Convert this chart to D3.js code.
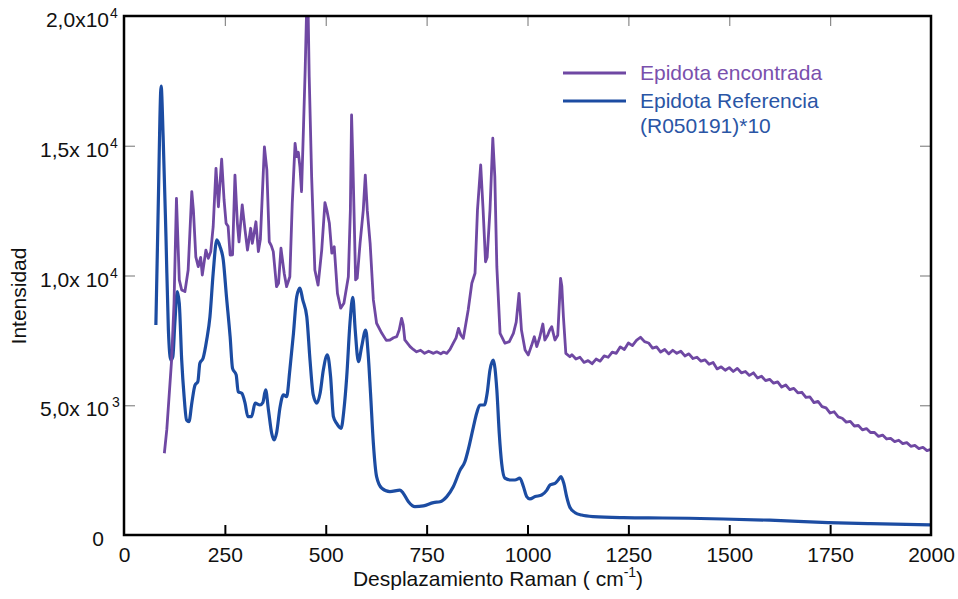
<!DOCTYPE html>
<html>
<head>
<meta charset="utf-8">
<script src="https://cdn.jsdelivr.net/npm/d3@7"></script>
<style>
  body { margin: 0; background: #fff; }
  svg { display: block; font-family: "Liberation Sans", Arial, sans-serif; }
</style>
</head>
<body>
<svg id="chart" width="958" height="599"></svg>
<script>
// Epidota encontrada (measured spectrum)
const shiftFound = [100, 106, 118, 124, 130, 137, 143, 151, 159, 168, 172, 178, 184, 190, 194, 203, 209, 215, 221, 228,
  234, 242, 248, 253, 258, 263, 269, 275, 281, 285, 293, 300, 306, 314, 318, 322, 327, 333, 338, 348,
  354, 360, 365, 370, 378, 383, 389, 397, 403, 411, 417, 424, 428, 432, 436, 440, 445, 449, 453, 456,
  459, 465, 473, 481, 490, 498, 503, 509, 515, 521, 529, 537, 545, 556, 561, 564, 567, 570, 574, 578,
  585, 593, 598, 603, 610, 618, 626, 639, 650, 659, 668, 676, 682, 688, 692, 696, 709, 717, 725, 735,
  745, 755, 767, 775, 785, 792, 800, 808, 816, 823, 829, 835, 841, 853, 862, 870, 876, 884, 890, 896,
  900, 907, 914, 919, 924, 932, 944, 955, 965, 972, 979, 985, 994, 1002, 1010, 1017, 1023, 1030, 1038, 1043,
  1050, 1055, 1060, 1068, 1075, 1082, 1085, 1089, 1095, 1105,
  1110, 1120, 1130, 1140, 1150, 1160, 1170, 1180, 1190, 1200, 1210, 1220, 1230, 1240, 1250, 1260, 1270, 1280, 1290, 1300,
  1310, 1320, 1330, 1340, 1350, 1360, 1370, 1380, 1390, 1400, 1410, 1420, 1430, 1440, 1450, 1460, 1470, 1480, 1490, 1500,
  1510, 1520, 1530, 1540, 1550, 1560, 1570, 1580, 1590, 1600, 1610, 1620, 1630, 1640, 1650, 1660, 1670, 1680, 1690, 1700,
  1710, 1720, 1730, 1740, 1750, 1760, 1770, 1780, 1790, 1800, 1810, 1820, 1830, 1840, 1850, 1860, 1870, 1880, 1890, 1900,
  1910, 1920, 1930, 1940, 1950, 1960, 1970, 1980, 1990, 2000];
const intensityFound = [3150, 4050, 6750, 8940, 12975, 9830, 9440, 9380, 10210, 13230, 12520, 10720, 10340, 10700, 10020, 10980, 10660, 10920, 11880, 14130,
  12650, 14480, 12910, 12010, 11900, 10790, 10800, 13870, 12010, 11300, 12720, 11750, 10980, 11820, 11240, 11600, 12070, 10920, 11400, 14960,
  14070, 11300, 11150, 10920, 9570, 9700, 11050, 10090, 9570, 9950, 12780, 15090, 14580, 14750, 14190, 13230, 15800, 17920, 20500, 20500,
  17660, 13810, 10210, 9630, 10980, 12810, 12500, 12010, 10860, 11110, 9310, 8740, 8930, 9950, 12500, 16185, 14500, 12520, 9830, 9900,
  11240, 12520, 13870, 12500, 11240, 9060, 8160, 7770, 7500, 7515, 7600, 7644, 7900, 8350, 8100, 7515, 7260, 7150, 7060, 7120,
  7000, 7080, 7000, 7060, 6980, 7050, 7000, 7150, 7390, 7600, 7965, 7700, 7580, 8670, 9700, 10085, 12520, 14260, 12520, 10530,
  10700, 12520, 15290, 13810, 10340, 7770, 7390, 7450, 7770, 8200, 9310, 7900, 7130, 6940, 7300, 7640, 7260, 7600, 8130, 7515,
  7700, 7900, 8030, 7515, 7700, 9890, 9600, 8410, 7000, 6870,
  6950, 6780, 6850, 6650, 6720, 6600, 6780, 6700, 6900, 6850, 7050, 7000, 7250, 7150, 7400, 7300, 7500, 7620, 7450, 7400,
  7200, 7250, 7050, 7150, 6980, 7120, 7000, 7080, 6900, 6980, 6800, 6850, 6700, 6750, 6580, 6650, 6400, 6480, 6350, 6450,
  6300, 6420, 6250, 6300, 6150, 6250, 6050, 6120, 5950, 6000, 5850, 5900, 5700, 5780, 5600, 5650, 5480, 5500, 5300, 5320,
  5100, 5150, 4950, 4900, 4700, 4750, 4550, 4500, 4350, 4380, 4200, 4220, 4050, 4100, 3950, 3950, 3800, 3850, 3700, 3720,
  3600, 3650, 3520, 3560, 3420, 3450, 3330, 3380, 3250, 3300];

// Epidota Referencia (R050191)*10
const shiftRef = [79, 85, 92, 97, 104, 110, 116, 121, 126, 132, 137, 143, 149, 155, 161, 168, 176, 183, 188, 196,
  205, 213, 221, 230, 238, 246, 254, 263, 269, 278, 283, 292, 300, 307, 316, 325, 337, 344, 351, 358,
  366, 372, 378, 387, 395, 403, 411, 420, 428, 436, 443, 453, 461, 469, 478, 486, 494, 504, 512, 519,
  527, 538, 545, 552, 560, 567, 573, 581, 589, 599, 605, 611, 618, 626, 639, 659, 684, 692, 705, 721,
  742, 767, 783, 800, 816, 833, 845, 853, 866, 874, 882, 893, 900, 907, 915, 924, 930, 936, 944, 957,
  969, 981, 990, 998, 1006, 1019, 1035, 1048, 1056, 1068, 1076, 1083, 1090, 1097, 1105, 1118, 1134, 1163, 1237, 1300,
  1400, 1485, 1600, 1745, 1850, 2000];
const intensityRef = [8090, 12780, 17300, 15350, 11500, 7900, 6740, 6870, 8160, 9380, 8930, 6740, 5330, 4430, 4370, 5080, 5780, 5910, 6620, 6810,
  7520, 8410, 10090, 11370, 11110, 10600, 9180, 7640, 6420, 6170, 5520, 5460, 5080, 4560, 4560, 5080, 5010, 5100, 5590, 4820,
  3920, 3660, 3920, 4950, 5400, 5330, 6360, 7770, 9180, 9510, 9060, 8410, 6740, 5400, 5080, 5460, 6360, 6940, 6100, 4560,
  4300, 4110, 4820, 6100, 8160, 9160, 7900, 6680, 7260, 7900, 7000, 5460, 3530, 2250, 1800, 1670, 1730, 1610, 1280, 1090,
  1120, 1250, 1280, 1480, 1860, 2500, 2830, 3280, 4170, 4690, 5010, 5010, 5460, 6360, 6740, 5590, 3920, 2760, 2190, 2120,
  2120, 2190, 1860, 1480, 1390, 1480, 1540, 1730, 1930, 1990, 2120, 2250, 1990, 1480, 1070, 860, 770, 710, 670, 660,
  645, 617, 570, 480, 440, 390];

const xTicks = [0, 250, 500, 750, 1000, 1250, 1500, 1750, 2000];
const yTicks = [0, 5000, 10000, 15000, 20000];
const yTickBase = ["0", "5,0x 10", "1,0x 10", "1,5x 10", "2,0x10"];
const yTickExp = ["", "3", "4", "4", "4"];

const series = [
  {name: "Epidota encontrada", xs: shiftFound, ys: intensityFound, color: "#6f48a3", text: "#7a50ad", width: 2.8,
   curve: d3.curveLinear},
  {name: "Epidota Referencia", name2: "(R050191)*10", xs: shiftRef, ys: intensityRef, color: "#1c4ca2", text: "#2a55a5", width: 3.2,
   curve: d3.curveMonotoneX}
];

const svg = d3.select("#chart");
const plotLeft = 124, plotRight = 931, plotTop = 16, plotBottom = 535;
const fs = 21;

const x = d3.scaleLinear().domain([0, 2000]).range([plotLeft, plotRight]);
const y = d3.scaleLinear().domain([0, 20000]).range([plotBottom, plotTop]);

svg.append("clipPath").attr("id", "plotclip")
  .append("rect").attr("x", plotLeft).attr("y", plotTop)
  .attr("width", plotRight - plotLeft).attr("height", plotBottom - plotTop);

// draw reference first, measured on top
[series[1], series[0]].forEach(s => {
  const line = d3.line().x(d => x(d[0])).y(d => y(d[1])).curve(s.curve);
  svg.append("path")
    .datum(s.xs.map((v, i) => [v, s.ys[i]]))
    .attr("clip-path", "url(#plotclip)")
    .attr("fill", "none")
    .attr("stroke", s.color)
    .attr("stroke-width", s.width)
    .attr("stroke-linejoin", "round")
    .attr("d", line);
});

// grey inner ticks on top / left / right
const inner = xTicks.slice(1, -1);
svg.append("g").attr("transform", `translate(0,${plotTop})`)
  .call(d3.axisTop(x).tickValues(inner).tickSizeInner(-10).tickSizeOuter(0).tickFormat(""))
  .call(g => g.select(".domain").remove())
  .selectAll("line").attr("stroke", "#8a8a8a").attr("stroke-width", 1.2);

svg.append("g").attr("transform", `translate(${plotLeft},0)`)
  .call(d3.axisLeft(y).tickValues(yTicks.slice(1, -1)).tickSizeInner(-11).tickSizeOuter(0).tickFormat(""))
  .call(g => g.select(".domain").remove())
  .selectAll("line").attr("stroke", "#8a8a8a").attr("stroke-width", 1.2);

svg.append("g").attr("transform", `translate(${plotRight},0)`)
  .call(d3.axisRight(y).tickValues(yTicks.slice(1, -1)).tickSizeInner(-11).tickSizeOuter(0).tickFormat(""))
  .call(g => g.select(".domain").remove())
  .selectAll("line").attr("stroke", "#8a8a8a").attr("stroke-width", 1.2);

// bottom axis: black inner ticks and labels
const xAxisG = svg.append("g").attr("transform", `translate(0,${plotBottom})`)
  .call(d3.axisBottom(x).tickValues(xTicks).tickSizeInner(-10).tickSizeOuter(0).tickPadding(12)
    .tickFormat(d3.format("d")));
xAxisG.select(".domain").remove();
xAxisG.selectAll(".tick line").attr("stroke", "#000").attr("stroke-width", 2)
  .filter(d => d === 0 || d === 2000).remove();
xAxisG.selectAll(".tick text").attr("font-size", fs).attr("fill", "#111")
  .attr("font-family", "Liberation Sans, Arial, sans-serif");

// frame
svg.append("rect")
  .attr("x", plotLeft).attr("y", plotTop)
  .attr("width", plotRight - plotLeft).attr("height", plotBottom - plotTop)
  .attr("fill", "none").attr("stroke", "#000").attr("stroke-width", 2.5);

// y tick labels with exponents
yTicks.forEach((v, i) => {
  svg.append("text")
    .attr("x", yTickExp[i] ? 109 : 104)
    .attr("y", y(v) + 11)
    .attr("text-anchor", "end")
    .attr("font-size", fs).attr("fill", "#111")
    .text(yTickBase[i]);
  if (yTickExp[i]) {
    svg.append("text")
      .attr("x", yTickExp[i] === "3" ? 112 : 110)
      .attr("y", y(v) + 2)
      .attr("font-size", 14).attr("fill", "#111")
      .text(yTickExp[i]);
  }
});

// axis titles
const xTitle = svg.append("text")
  .attr("x", 498).attr("y", 586).attr("text-anchor", "middle")
  .attr("font-size", fs).attr("fill", "#111");
xTitle.append("tspan").text("Desplazamiento Raman ( cm");
xTitle.append("tspan").attr("dy", -9).attr("font-size", 14).text("-1");
xTitle.append("tspan").attr("dy", 9).text(")");

svg.append("text")
  .attr("transform", "translate(26,296) rotate(-90)")
  .attr("text-anchor", "middle")
  .attr("font-size", fs).attr("fill", "#111")
  .text("Intensidad");

// legend
const legend = svg.append("g");
series.forEach((s, i) => {
  const ly = 73 + i * 28;
  legend.append("line")
    .attr("x1", 563).attr("x2", 626).attr("y1", ly).attr("y2", ly)
    .attr("stroke", s.color).attr("stroke-width", 3);
  legend.append("text")
    .attr("x", 640).attr("y", ly + 7)
    .attr("font-size", fs).attr("fill", s.text)
    .text(s.name);
  if (s.name2) {
    legend.append("text")
      .attr("x", 640).attr("y", ly + 32)
      .attr("font-size", fs).attr("fill", s.text)
      .text(s.name2);
  }
});
</script>
</body>
</html>
